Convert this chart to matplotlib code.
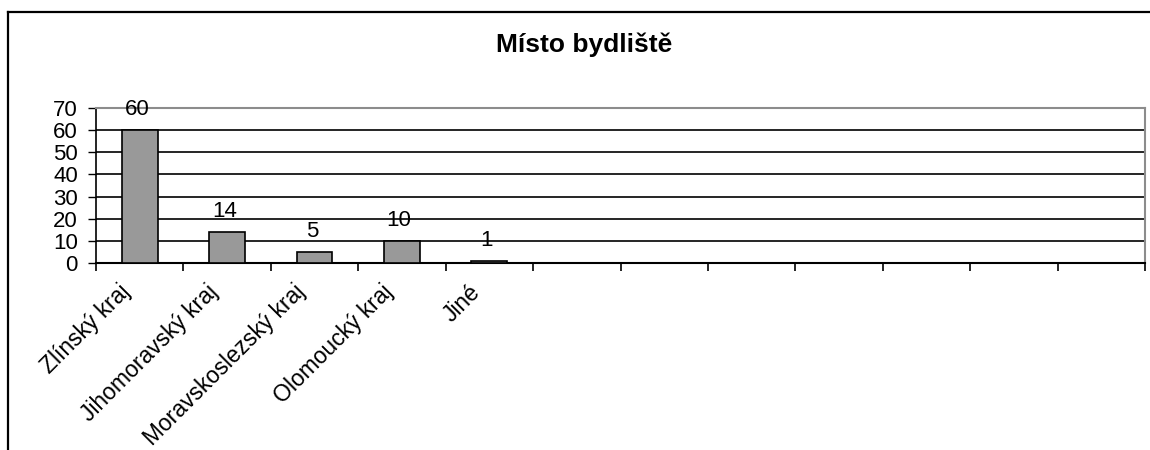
import numpy as np
import matplotlib.pyplot as plt
import matplotlib.transforms as mtransforms
from matplotlib.lines import Line2D

plt.rcParams['font.family'] = ['Liberation Sans', 'DejaVu Sans']

# data
title = "Místo bydliště"
categories = ["Zlínský kraj", "Jihomoravský kraj", "Moravskoslezský kraj",
              "Olomoucký kraj", "Jiné"]
values = [60, 14, 5, 10, 1]
n_slots = 12  # the category axis has empty slots after "Jiné"
yticks = [0, 10, 20, 30, 40, 50, 60, 70]

fig = plt.figure(figsize=(11.5, 4.5), dpi=100)
ax = fig.add_axes([96 / 1150, 1 - 263 / 450, (1145 - 96) / 1150, (263 - 108) / 450])

x = np.arange(len(categories))
ax.bar(x, values, width=0.41, color="#999999", edgecolor="black", linewidth=1.2, zorder=3)

for xi, v in zip(x, values):
    ax.annotate(str(v), (xi, v), xytext=(-2, 7), textcoords="offset points",
                ha="center", va="bottom", fontsize=16, zorder=4)

ax.set_xlim(-0.5, n_slots - 0.5)
ax.set_ylim(0, 70)
ax.set_yticks(yticks)
ax.tick_params(axis="y", labelsize=16, length=6, width=1, direction="out", pad=7)

# ticks between categories, labels at category centres
ax.set_xticks(np.arange(n_slots + 1) - 0.5)
ax.set_xticklabels([])
ax.tick_params(axis="x", which="major", length=6, width=1.2, direction="out")
ax.set_xticks(x, minor=True)
labels = ax.set_xticklabels(categories, minor=True, rotation=45, ha="right",
                            rotation_mode="anchor", fontsize=16.5)
ax.tick_params(axis="x", which="minor", length=0, pad=9)
shift = mtransforms.ScaledTranslation(-0.21, -0.05, fig.dpi_scale_trans)
for lab in labels:
    lab.set_transform(lab.get_transform() + shift)

for y in yticks[1:-1]:
    ax.axhline(y, color="black", linewidth=1.2, zorder=1)

ax.spines["top"].set_color("#8c8c8c")
ax.spines["right"].set_color("#8c8c8c")
ax.spines["top"].set_linewidth(1.5)
ax.spines["right"].set_linewidth(1.5)
ax.spines["left"].set_linewidth(1.2)
ax.spines["bottom"].set_linewidth(1.5)

fig.text(584 / 1150, 1 - 45 / 450, title, ha="center", va="center",
         fontsize=19, fontweight="bold")

# chart area frame (cropped at right and bottom)
fig.add_artist(Line2D([7.5 / 1150, 7.5 / 1150], [0, 1 - 12 / 450],
                      transform=fig.transFigure, color="black", linewidth=1.6))
fig.add_artist(Line2D([7.5 / 1150, 1], [1 - 12 / 450, 1 - 12 / 450],
                      transform=fig.transFigure, color="black", linewidth=1.6))

fig.savefig("out.png", dpi=100)
